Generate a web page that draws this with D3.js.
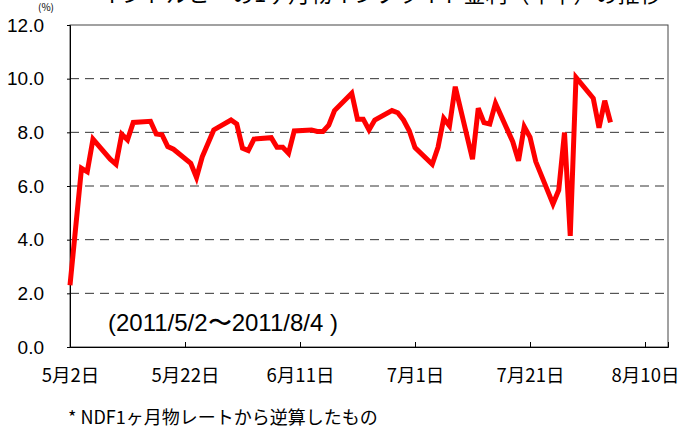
<!DOCTYPE html>
<html>
<head>
<meta charset="utf-8">
<script src="https://cdn.jsdelivr.net/npm/d3@7"></script>
<style>
  body { margin: 0; background: #fff; }
  svg { display: block; }
</style>
</head>
<body>
<svg width="679" height="429"></svg>
<script>
// business days 2011/5/2 - 2011/8/4
const dates = [
  '2011-05-02','2011-05-04','2011-05-05','2011-05-06','2011-05-09','2011-05-10','2011-05-11','2011-05-12','2011-05-13',
  '2011-05-16','2011-05-17','2011-05-18','2011-05-19','2011-05-20','2011-05-23','2011-05-24','2011-05-25','2011-05-27',
  '2011-05-30','2011-05-31','2011-06-01','2011-06-02','2011-06-03','2011-06-06','2011-06-07','2011-06-08','2011-06-09',
  '2011-06-10','2011-06-13','2011-06-14','2011-06-15','2011-06-16','2011-06-17','2011-06-20','2011-06-21','2011-06-22',
  '2011-06-23','2011-06-24','2011-06-27','2011-06-28','2011-06-29','2011-06-30','2011-07-01','2011-07-04','2011-07-05',
  '2011-07-06','2011-07-07','2011-07-08','2011-07-11','2011-07-12','2011-07-13','2011-07-14','2011-07-15','2011-07-18',
  '2011-07-19','2011-07-20','2011-07-21','2011-07-22','2011-07-25','2011-07-26','2011-07-27','2011-07-28','2011-07-29',
  '2011-08-01','2011-08-02','2011-08-03','2011-08-04'
];
const rates = [
  2.30, 6.66, 6.53, 7.75, 7.00, 6.81, 7.93, 7.72, 8.37,
  8.41, 7.94, 7.91, 7.47, 7.37, 6.85, 6.32, 7.09, 8.09,
  8.46, 8.31, 7.41, 7.32, 7.75, 7.80, 7.44, 7.44, 7.22,
  8.05, 8.09, 8.03, 8.03, 8.27, 8.81, 9.46, 8.49, 8.49,
  8.09, 8.46, 8.81, 8.73, 8.46, 8.06, 7.43, 6.81, 7.44,
  8.52, 8.24, 9.70, 7.00, 8.90, 8.36, 8.31, 9.08, 7.65,
  6.94, 8.21, 7.82, 6.91, 5.33, 5.85, 7.99, 4.14, 10.05,
  9.27, 8.17, 9.18, 8.37
];
const xTicks = ['2011-05-02','2011-05-22','2011-06-11','2011-07-01','2011-07-21','2011-08-10'];
const yTicks = [0, 2, 4, 6, 8, 10, 12];

const parse = d3.timeParse('%Y-%m-%d');
const data = dates.map((d, i) => ({date: parse(d), v: rates[i]}));

const plot = {l: 70, r: 668, t: 25, b: 347};
const svg = d3.select('svg');

const x = d3.scaleTime()
    .domain([parse('2011-05-02'), parse('2011-08-14')])
    .range([plot.l, plot.r]);
const y = d3.scaleLinear()
    .domain([0, 12])
    .range([plot.b, plot.t]);

// title (only its lower edge shows in the original)
svg.append('text')
    .attr('x', 100)
    .attr('y', 2)
    .style('font-family', '"Noto Sans CJK JP", sans-serif')
    .style('font-size', '22px')
    .text('インドルピーの1ヶ月物インプライド金利（年率）の推移');

svg.append('text')
    .attr('x', 38)
    .attr('y', 11)
    .style('font-family', '"Noto Sans CJK JP", sans-serif')
    .style('font-size', '10px')
    .text('(%)');

// gridlines
svg.append('g')
    .selectAll('line')
    .data(yTicks.filter(d => d > 0 && d < 12))
    .join('line')
    .attr('x1', plot.l)
    .attr('x2', plot.r)
    .attr('y1', d => y(d))
    .attr('y2', d => y(d))
    .attr('stroke', '#333')
    .attr('stroke-width', 1)
    .attr('stroke-dasharray', '9,6');

// frame
svg.append('rect')
    .attr('x', plot.l)
    .attr('y', plot.t)
    .attr('width', plot.r - plot.l)
    .attr('height', plot.b - plot.t)
    .attr('fill', 'none')
    .attr('stroke', '#444')
    .attr('stroke-width', 1);

// y axis
const yAxis = svg.append('g')
    .attr('transform', `translate(${plot.l},0)`)
    .call(d3.axisLeft(y).tickValues(yTicks).tickFormat(d3.format('.1f')).tickSize(3).tickPadding(23));
yAxis.select('.domain').attr('stroke', '#000');
yAxis.selectAll('text')
    .style('font-family', '"Liberation Sans", Arial, sans-serif')
    .style('font-size', '19px')
    .attr('fill', '#000');

// x axis
const xAxis = svg.append('g')
    .attr('transform', `translate(0,${plot.b})`)
    .call(d3.axisBottom(x)
        .tickValues(xTicks.map(parse))
        .tickFormat(d => (d.getMonth() + 1) + '月' + d.getDate() + '日')
        .tickSize(-5)
        .tickPadding(22));
xAxis.select('.domain').attr('stroke', '#000');
xAxis.selectAll('text')
    .style('font-family', '"Noto Sans CJK JP", sans-serif')
    .style('font-size', '18.5px')
    .attr('fill', '#000');

// rate line
const line = d3.line()
    .x(d => x(d.date))
    .y(d => y(d.v));

svg.append('path')
    .datum(data)
    .attr('d', line)
    .attr('fill', 'none')
    .attr('stroke', '#ff0000')
    .attr('stroke-width', 5)
    .attr('stroke-linejoin', 'miter');

// period label
svg.append('text')
    .attr('x', 108)
    .attr('y', 331)
    .style('font-family', '"Liberation Sans", Arial, sans-serif')
    .style('font-size', '24px')
    .text('(2011/5/2〜2011/8/4 )');

// footnote
svg.append('text')
    .attr('x', 68)
    .attr('y', 424)
    .style('font-family', '"Noto Sans CJK JP", sans-serif')
    .style('font-size', '18px')
    .text('* NDF1ヶ月物レートから逆算したもの');
</script>
</body>
</html>
